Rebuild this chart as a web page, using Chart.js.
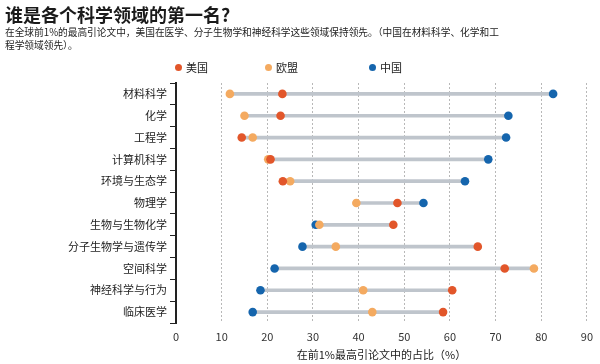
<!DOCTYPE html>
<html>
<head>
<meta charset="utf-8">
<script src="https://cdn.jsdelivr.net/npm/chart.js@4.4.1/dist/chart.umd.min.js"></script>
<style>
  html, body { margin: 0; padding: 0; background: #fff; }
  body { width: 600px; height: 364px; position: relative; overflow: hidden;
         font-family: "Noto Sans CJK SC", "Noto Sans", sans-serif; color: #222; }
  #title { position: absolute; left: 5px; top: 2px; font-size: 18px; font-weight: bold; line-height: 24px; color: #1a1a1a; white-space: nowrap; }
  #sub { position: absolute; left: 5px; top: 26px; font-size: 9.7px; line-height: 12.5px; color: #222; white-space: nowrap; }
  .lg { position: absolute; top: 60px; font-size: 11px; line-height: 14px; white-space: nowrap; }
  .lg span.dot { display: inline-block; width: 7px; height: 7px; border-radius: 50%; position: absolute; left: -11px; top: 3.5px; }
  #wrap { position: absolute; left: 0; top: 0; width: 600px; height: 364px; }
</style>
</head>
<body>
<div id="wrap"><canvas id="c" width="600" height="364"></canvas></div>
<div id="title">谁是各个科学领域的第一名?</div>
<div id="sub">在全球前1%的最高引论文中，美国在医学、分子生物学和神经科学这些领域保持领先。（中国在材料科学、化学和工<br>程学领域领先）。</div>
<div id="legend"></div>
<script>
const categories = ["材料科学", "化学", "工程学", "计算机科学", "环境与生态学", "物理学", "生物与生物化学", "分子生物学与遗传学", "空间科学", "神经科学与行为", "临床医学"];
const usValues    = [23.3, 22.9, 14.4, 20.7, 23.4, 48.5, 47.6, 66.1, 72.0, 60.5, 58.5];
const euValues    = [11.8, 15.0, 16.8, 20.2, 25.0, 39.5, 31.4, 35.0, 78.4, 41.0, 43.0];
const chinaValues = [82.6, 72.8, 72.3, 68.4, 63.3, 54.2, 30.6, 27.7, 21.6, 18.5, 16.8];
const seriesNames = ["美国", "欧盟", "中国"];
const xTicks = [0, 10, 20, 30, 40, 50, 60, 70, 80, 90];
const xTitle = "在前1%最高引论文中的占比（%）";

const colors = { us: "#e2562a", eu: "#f4aa60", cn: "#1565ad", range: "#bfc5cc" };

// HTML legend
const legendPos = [186, 276, 380];
const legendCols = [colors.us, colors.eu, colors.cn];
const lg = document.getElementById("legend");
seriesNames.forEach((n, i) => {
  const d = document.createElement("div");
  d.className = "lg";
  d.style.left = legendPos[i] + "px";
  d.innerHTML = '<span class="dot" style="background:' + legendCols[i] + '"></span>' + n;
  lg.appendChild(d);
});

const rangeData = categories.map((c, i) => {
  const v = [usValues[i], euValues[i], chinaValues[i]];
  return [Math.min(...v), Math.max(...v)];
});
const pts = arr => categories.map((c, i) => ({ x: arr[i], y: c }));

const pointDs = (label, arr, col, order) => ({
  type: "line", label, data: pts(arr), showLine: false,
  pointRadius: 4.3, pointHoverRadius: 4.3, pointBorderWidth: 0,
  pointBackgroundColor: col, borderColor: col, backgroundColor: col, order
});

const font = { family: '"Noto Sans CJK SC", "Noto Sans", sans-serif', size: 11 };

new Chart(document.getElementById("c"), {
  type: "bar",
  data: {
    labels: categories,
    datasets: [
      { type: "bar", label: "range", data: rangeData, backgroundColor: colors.range,
        barThickness: 3, borderWidth: 0, borderSkipped: false, order: 10 },
      pointDs(seriesNames[0], usValues, colors.us, 1),
      pointDs(seriesNames[1], euValues, colors.eu, 2),
      pointDs(seriesNames[2], chinaValues, colors.cn, 3)
    ]
  },
  options: {
    indexAxis: "y",
    responsive: false,
    animation: false,
    devicePixelRatio: 1,
    layout: { padding: { top: 83, right: 11, bottom: 0, left: 0 } },
    plugins: { legend: { display: false }, tooltip: { enabled: false }, title: { display: false } },
    scales: {
      x: {
        type: "linear", min: 0, max: 90,
        afterBuildTicks: s => { s.ticks = xTicks.map(v => ({ value: v })); },
        afterFit: s => { s.height = 41; },
        grid: { color: "#b8b8b8", lineWidth: 1, drawTicks: false },
        border: { display: false, dash: [2, 2] },
        ticks: { font, color: "#333", padding: 7 },
        title: { display: true, text: xTitle, font, color: "#222", padding: { top: 0, bottom: 3 } }
      },
      y: {
        type: "category",
        afterFit: s => { s.width = 176; },
        grid: { drawOnChartArea: false, drawTicks: true, tickLength: 6, color: "#222", lineWidth: 1 },
        border: { display: true, color: "#222", width: 2 },
        ticks: { font, color: "#222", padding: 3 }
      }
    }
  }
});
</script>
</body>
</html>
